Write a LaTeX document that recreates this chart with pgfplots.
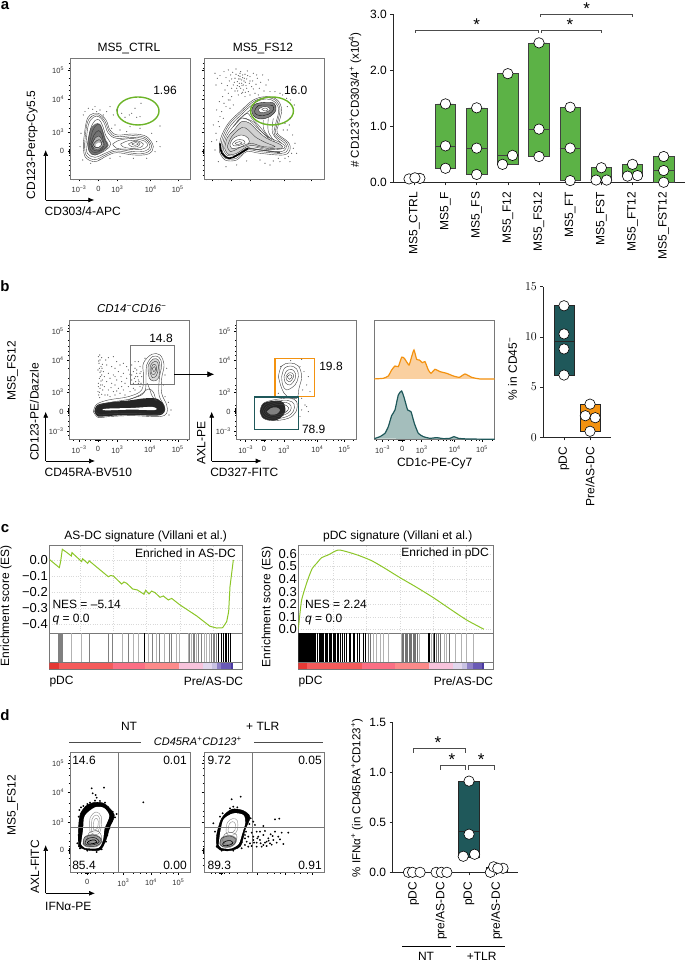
\documentclass[border=0pt]{standalone}
\usepackage{fontspec}
\setmainfont{Liberation Sans}
\usepackage{pgfplots}
\pgfplotsset{compat=1.18}
\usepgfplotslibrary{statistics}
\usetikzlibrary{arrows.meta}

\definecolor{grn}{RGB}{92,178,70}
\definecolor{gate}{RGB}{108,180,40}
\definecolor{teal1}{RGB}{31,88,90}
\definecolor{org}{RGB}{243,146,16}
\definecolor{orgl}{RGB}{250,208,160}
\definecolor{tealh}{RGB}{164,190,188}
\definecolor{esl}{RGB}{140,198,40}
\definecolor{frm}{RGB}{120,120,120}
\definecolor{cb1}{RGB}{229,57,53}
\definecolor{cb2}{RGB}{244,91,91}
\definecolor{cb3}{RGB}{251,111,132}
\definecolor{cb4}{RGB}{252,138,138}
\definecolor{cb5}{RGB}{248,195,220}
\definecolor{cb6}{RGB}{226,216,238}
\definecolor{cb7}{RGB}{201,194,227}
\definecolor{cb8}{RGB}{142,128,198}
\definecolor{cb9}{RGB}{106,90,181}
\definecolor{cb10}{RGB}{74,58,160}

\newcommand\fs[1]{\fontsize{#1}{#1}\selectfont}
\newcommand\sst[1]{\textsuperscript{#1}}
% text at reference pixel position
\newcommand\lab[4][]{\node[inner sep=0pt,font=\fs{12},#1] at (#2pt,961pt-#3pt) {#4};}
\newcommand\ct[2][]{\addplot[cont,#1] coordinates {#2};}
\newcommand\fl[2]{\addplot[fill=#1,draw=none,smooth,tension=0.6] coordinates {#2};}
\newcommand\pts[2][]{\addplot[only marks,mark=*,mark size=0.32,black!60,mark options={draw=none},#1] coordinates {#2};}
\newcommand\seg[3]{\addplot[fill=#3,draw=none] coordinates {(#1,0)(#2,0)(#2,1)(#1,1)} --cycle;}
\newcommand\circles[1]{\addplot[only marks,mark=*,mark size=5.2,mark options={fill=white,draw=black,line width=0.6}] coordinates {#1};}

\pgfplotsset{
  cont/.style={smooth,tension=0.6,black!75,line width=0.4},
  brk/.style={black!70,line width=0.8},
  flow/.style={scale only axis,axis line style={frm,line width=0.8},tick align=outside,
    major tick length=2.5pt,minor tick length=1.3pt,tick style={black,line width=0.4},
    xtick pos=bottom,ytick pos=left,scaled ticks=false,
    tick label style={font=\fs{7.5},black!80},
    xticklabel shift=1pt,yticklabel shift=0pt},
  bars/.style={scale only axis,axis lines=left,axis line style={-,line width=0.8,black!85},clip=false,
    tick align=outside,major tick length=3pt,tick style={black!85,line width=0.6},
    scaled ticks=false,tick label style={font=\fs{12}},xticklabel shift=3pt,
    x tick label style={rotate=90,anchor=east},boxplot/draw direction=y},
  es/.style={scale only axis,axis line style={frm,line width=0.7},xtick pos=bottom,ytick pos=left,
    major tick length=0pt,grid=major,grid style={dotted,black!15},xticklabels={},
    tick label style={font=\fs{13}},scaled ticks=false,yticklabel shift=-2pt},
  strip/.style={scale only axis,axis line style={frm,line width=0.7},ticks=none,ymin=0,ymax=1},
}

\begin{document}
\begin{tikzpicture}
\path[use as bounding box] (0,0) rectangle (685pt,961pt);

%% panel a, flow plots
\begin{axis}[flow,at={(70pt,961pt-179pt)},anchor=south west,width=120.7pt,height=120.7pt,
  xmin=210,xmax=572,ymin=175,ymax=537,y dir=reverse,
  xtick={237,295,352,452,533},xticklabels={10\sst{−3},0,10\sst{3},10\sst{4},10\sst{5}},
  ytick={212,298,397,453},yticklabels={10\sst{5},10\sst{4},10\sst{3},0},
  minor xtick={220,255,270,285,288,291,294,297,300,318,335,380,400,415,425,435,445,480,500,515,525,560},
  minor ytick={190,205,235,255,270,285,325,350,370,385,430,440,447,450,456,459,465,480,495,510,525}]
\pts{(265,325)(285,320)(300,330)(320,335)(340,345)(250,345)(243,400)(240,440)(248,480)(272,490)(300,478)(330,475)(360,470)(400,475)(440,475)(465,455)(470,425)(455,400)(420,385)(390,380)(360,390)(345,375)(375,352)(395,340)(410,352)(420,350)(423,310)(405,325)(388,345)(480,378)(330,320)(350,330)(290,335)(365,340)(335,385)(380,395)(255,335)(278,328)(310,345)(480,440)}
\fl{black!55}{(262,432)(270,390)(285,372)(300,372)(310,395)(318,420)(326,436)(312,452)(285,466)(268,456)(262,432)}
\fl{black!30}{(278,433)(287,412)(298,408)(307,420)(312,435)(298,448)(284,448)(278,433)}
\fl{white}{(287,434)(296,428)(304,433)(296,441)(289,441)(287,434)}
\ct{(250,430)(258,370)(270,345)(295,340)(318,360)(330,390)(352,405)(400,402)(440,410)(460,440)(445,462)(400,465)(350,458)(320,468)(285,485)(255,470)(250,430)}
\ct{(254,430)(261,372)(275,349)(296,345)(315,364)(328,395)(350,410)(400,407)(437,414)(455,440)(440,458)(400,460)(350,453)(320,463)(285,479)(258,465)(254,430)}
\ct{(258,430)(265,375)(280,352)(297,350)(312,368)(325,400)(350,415)(400,412)(435,418)(450,440)(435,453)(400,455)(350,448)(320,458)(285,472)(262,460)(258,430)}
\ct{(263,430)(272,385)(285,362)(298,360)(308,378)(318,408)(332,432)(318,450)(285,465)(268,455)(263,430)}
\ct{(268,432)(278,392)(290,375)(300,375)(308,395)(314,420)(322,435)(310,448)(285,458)(272,450)(268,432)}
\ct[black!80]{(272,432)(282,405)(295,392)(305,402)(310,425)(312,438)(298,452)(280,450)(272,432)}
\ct[black!85]{(275,433)(285,415)(297,408)(306,420)(310,435)(298,447)(282,446)(275,433)}
\ct[black!90]{(280,433)(290,422)(300,420)(305,432)(297,442)(285,442)(280,433)}
\ct{(338,432)(360,420)(400,416)(435,424)(442,438)(425,448)(390,448)(350,445)(338,432)}
\ct{(362,432)(385,422)(412,422)(430,432)(420,443)(390,445)(368,440)(362,432)}
\ct{(385,432)(405,424)(420,430)(412,440)(395,440)(385,432)}
\ct{(395,432)(407,428)(415,432)(405,436)(395,432)}
\draw[gate,line width=1.4] (axis cs:414,333) ellipse [x radius=21pt,y radius=14pt];
\end{axis}

\begin{axis}[flow,at={(204pt,961pt-179pt)},anchor=south west,width=120.3pt,height=120.7pt,
  xmin=12,xmax=373,ymin=10,ymax=372,y dir=reverse,
  xtick={37,95,152,252,333},xticklabels={},ytick={47,133,232,288},yticklabels={},
  minor xtick={20,55,70,85,88,91,94,97,100,118,135,180,200,215,225,235,245,280,300,315,325,360},
  minor ytick={25,40,70,90,105,120,160,185,205,220,265,275,282,285,291,294,300,315,330,345,360}]
\pts{(45,55)(52,70)(60,62)(48,90)(65,85)(72,50)(78,68)(85,45)(88,78)(92,60)(98,52)(100,90)(105,70)(108,42)(112,80)(115,62)(118,95)(120,72)(122,50)(125,85)(128,68)(130,105)(132,78)(135,58)(138,92)(140,72)(142,48)(145,110)(148,85)(150,65)(155,95)(158,78)(160,55)(165,115)(168,88)(172,70)(178,100)(182,82)(188,60)(192,108)(198,90)(205,75)(210,110)(75,105)(85,115)(95,125)(105,108)(115,120)(125,115)(135,125)(68,125)(58,140)(72,145)(85,135)(50,165)(60,185)(40,210)(48,235)(35,260)(45,285)(55,320)(78,335)(110,330)(140,318)(180,315)(220,318)(255,310)(275,295)(285,265)(278,240)(262,225)(255,205)(270,190)(283,150)(260,130)(240,115)(225,110)(120,55)(125,75)(118,85)(130,90)(122,100)(112,92)(128,60)(136,82)(116,72)(100,150)(90,160)(70,190)(58,215)(50,255)(240,320)(270,320)(210,330)(108,58)(126,92)(133,70)(110,100)(120,64)(140,100)(128,112)(103,82)(95,72)(150,78)(143,62)(82,92)(160,102)(170,60)(113,108)(136,112)(95,100)(150,120)(175,120)(90,135)(78,155)(65,170)(55,200)(280,280)(290,295)(265,305)(235,310)(195,325)(250,225)(268,210)(262,155)(272,135)(248,120)}
\fl{black!18}{(74,280)(82,248)(102,225)(125,200)(150,205)(170,225)(200,250)(240,268)(245,280)(200,280)(150,272)(110,295)(85,298)(74,280)}
\fl{black!50}{(155,165)(165,148)(195,142)(222,145)(228,165)(210,185)(180,192)(160,182)(155,165)}
\fl{white}{(175,163)(190,155)(205,157)(210,165)(195,172)(180,172)(175,163)}
\fl{white}{(90,268)(100,250)(125,240)(145,250)(145,268)(115,278)(95,280)(90,268)}
\ct{(58,290)(62,250)(85,205)(120,170)(160,135)(200,125)(232,135)(245,165)(235,210)(232,235)(265,262)(270,285)(250,300)(180,295)(140,290)(110,315)(75,315)(58,290)}
\ct{(62,288)(67,250)(88,208)(122,174)(162,139)(200,128)(229,138)(240,166)(230,212)(228,237)(260,263)(264,283)(245,295)(180,290)(140,285)(109,310)(76,310)(62,288)}
\ct{(66,285)(72,250)(92,212)(125,178)(165,143)(200,132)(226,142)(236,168)(225,215)(224,240)(255,265)(258,280)(240,290)(180,285)(140,280)(108,305)(78,305)(66,285)}
\ct{(70,283)(77,249)(97,218)(125,189)(150,198)(175,222)(205,246)(248,267)(252,280)(205,284)(150,276)(109,300)(82,301)(70,283)}
\ct{(74,280)(82,248)(102,225)(125,200)(150,205)(170,225)(200,250)(240,268)(245,280)(200,280)(150,272)(110,295)(85,298)(74,280)}
\ct{(82,275)(95,245)(125,218)(145,225)(165,245)(195,262)(225,275)(190,275)(150,265)(115,280)(92,290)(82,275)}
\ct{(90,268)(100,250)(125,240)(145,250)(145,268)(115,278)(95,280)(90,268)}
\ct{(98,265)(110,255)(128,255)(135,264)(115,272)(100,272)(98,265)}
\ct{(105,265)(118,260)(126,264)(112,269)(105,265)}
\ct[black!90]{(155,165)(165,148)(195,142)(222,145)(228,165)(210,185)(180,192)(160,182)(155,165)}
\ct[black!90]{(165,165)(175,152)(198,150)(218,152)(220,165)(205,178)(180,182)(165,175)(165,165)}
\ct{(175,163)(190,155)(205,157)(210,165)(195,172)(180,172)(175,163)}
\ct{(185,163)(196,159)(204,164)(195,168)(185,163)}
\ct{(110,200)(140,175)(155,190)(175,210)(195,235)(210,255)}
\ct{(130,190)(160,200)(180,225)(205,250)}
\ct{(205,190)(205,230)(225,260)}
\ct{(220,190)(218,235)(245,265)}
\ct{(190,195)(192,225)(215,255)}
\ct{(100,215)(125,188)(150,165)}
\ct[black,line width=1.6]{(60,265)(66,295)(88,310)(112,300)(145,280)}
\ct[black!70,line width=1]{(145,280)(190,286)(240,293)}
\draw[gate,line width=1.4] (axis cs:216,168) ellipse [x radius=21.5pt,y radius=14pt];
\end{axis}

%% panel a, counts
\begin{axis}[bars,at={(393.3pt,961pt-182.3pt)},anchor=south west,width=291.7pt,height=168pt,
  xmin=-0.674,xmax=8.684,ymin=0,ymax=3,
  xtick={0,...,8},xticklabels={MS5\_CTRL,MS5\_F,MS5\_FS,MS5\_F12,MS5\_FS12,MS5\_FT,MS5\_FST,MS5\_FT12,MS5\_FST12},
  ytick={0,1,2,3},yticklabels={0.0,1.0,2.0,3.0}]
\addplot[fill=grn,draw=black!75,line width=0.6,boxplot prepared={lower whisker=0.25,lower quartile=0.25,median=0.65,upper quartile=1.40,upper whisker=1.40,draw position=1,box extend=0.66}] coordinates {};
\addplot[fill=grn,draw=black!75,line width=0.6,boxplot prepared={lower whisker=0.14,lower quartile=0.14,median=0.61,upper quartile=1.33,upper whisker=1.33,draw position=2,box extend=0.66}] coordinates {};
\addplot[fill=grn,draw=black!75,line width=0.6,boxplot prepared={lower whisker=0.32,lower quartile=0.32,median=0.48,upper quartile=1.94,upper whisker=1.94,draw position=3,box extend=0.66}] coordinates {};
\addplot[fill=grn,draw=black!75,line width=0.6,boxplot prepared={lower whisker=0.46,lower quartile=0.46,median=0.95,upper quartile=2.49,upper whisker=2.49,draw position=4,box extend=0.66}] coordinates {};
\addplot[fill=grn,draw=black!75,line width=0.6,boxplot prepared={lower whisker=0.03,lower quartile=0.03,median=0.61,upper quartile=1.34,upper whisker=1.34,draw position=5,box extend=0.66}] coordinates {};
\addplot[fill=grn,draw=black!75,line width=0.6,boxplot prepared={lower whisker=0.04,lower quartile=0.04,median=0.04,upper quartile=0.26,upper whisker=0.26,draw position=6,box extend=0.66}] coordinates {};
\addplot[fill=grn,draw=black!75,line width=0.6,boxplot prepared={lower whisker=0.11,lower quartile=0.11,median=0.12,upper quartile=0.32,upper whisker=0.32,draw position=7,box extend=0.66}] coordinates {};
\addplot[fill=grn,draw=black!75,line width=0.6,boxplot prepared={lower whisker=0.0,lower quartile=0.0,median=0.21,upper quartile=0.46,upper whisker=0.46,draw position=8,box extend=0.66}] coordinates {};
\circles{(-0.17,0.06)(0.18,0.07)(0.02,0.08)}
\circles{(1,1.40)(1,0.65)(1,0.25)}
\circles{(2,1.33)(2,0.61)(2,0.14)}
\circles{(3,1.94)(3.15,0.48)(2.83,0.32)}
\circles{(4,2.49)(4,0.95)(4,0.46)}
\circles{(5,1.34)(5,0.61)(5,0.03)}
\circles{(6,0.26)(5.83,0.04)(6.17,0.04)}
\circles{(7,0.32)(6.84,0.11)(7.16,0.12)}
\circles{(8,0.46)(8,0.21)(8,0.0)}
\addplot[brk] coordinates {(0.04,2.67)(0.04,2.72)(3.99,2.72)(3.99,2.67)};
\addplot[brk] coordinates {(4.07,2.67)(4.07,2.72)(6.0,2.72)(6.0,2.67)};
\addplot[brk] coordinates {(4.03,2.95)(4.03,3.0)(7.0,3.0)(7.0,2.95)};
\end{axis}

%% panel b, flow plots
\begin{axis}[flow,at={(69.7pt,961pt-439.3pt)},anchor=south west,width=120pt,height=119.3pt,
  xmin=14,xmax=374,ymin=15,ymax=373,y dir=reverse,
  xtick={42,99,157,255,338},xticklabels={10\sst{−3},0,10\sst{3},10\sst{4},10\sst{5}},
  ytick={50,135,233,290,348},yticklabels={10\sst{5},10\sst{4},10\sst{3},0,10\sst{−3}},
  minor xtick={25,60,75,90,93,96,99,102,105,123,140,185,205,220,230,240,250,285,305,320,330,365},
  minor ytick={30,40,75,95,110,122,160,190,210,222,270,280,284,287,293,296,302,320,335,360}]
\pts{(100,125)(105,135)(110,128)(102,145)(108,155)(112,148)(99,165)(105,172)(110,180)(103,190)(108,198)(100,205)(112,210)(105,220)(99,230)(110,238)(104,248)(130,128)(145,125)(125,150)(140,155)(155,140)(165,150)(175,145)(185,155)(130,175)(145,180)(160,170)(175,175)(190,165)(200,150)(210,140)(125,200)(140,205)(155,195)(170,200)(185,190)(200,180)(215,165)(225,155)(130,225)(145,230)(160,220)(175,225)(190,215)(205,205)(220,195)(230,185)(120,240)(135,245)(150,240)(165,235)(180,240)(205,170)(212,185)(220,205)(208,190)(215,175)(228,205)(200,195)(118,185)(122,135)(150,210)(170,215)(300,245)(310,262)(318,285)(312,300)(295,210)(300,180)(305,160)(103,160)(107,210)(101,240)(113,225)(195,230)(210,225)(225,215)(240,130)(225,175)(135,190)(115,170)(150,160)(101,138)(111,160)(106,185)(100,215)(112,195)(103,232)(108,168)(104,120)(168,185)(180,205)(195,178)(205,220)(218,185)(222,200)(212,200)(210,160)(220,140)(228,170)(150,185)(138,218)(118,215)(128,240)(155,228)}
\fl{black!15}{(250,175)(250,150)(265,132)(280,135)(285,155)(280,190)(265,198)(253,190)(250,175)}
\fl{black!85}{(88,290)(97,270)(135,262)(195,256)(240,250)(278,252)(298,272)(298,292)(275,302)(200,300)(130,303)(100,305)(88,290)}
\fl{white}{(112,285)(125,281)(200,279)(262,276)(270,285)(200,284)(130,286)(112,285)}
\ct{(85,290)(95,268)(130,255)(190,245)(230,225)(235,180)(235,145)(260,118)(285,120)(297,150)(290,190)(290,235)(305,270)(305,295)(280,305)(200,302)(130,305)(100,308)(85,290)}
\ct{(92,290)(100,272)(135,262)(195,252)(238,232)(243,180)(245,150)(262,125)(282,127)(290,150)(283,190)(282,240)(297,272)(297,290)(275,298)(200,295)(130,297)(105,300)(92,290)}
\ct{(250,175)(250,150)(265,132)(280,135)(285,155)(280,190)(265,198)(253,190)(250,175)}
\ct{(255,170)(257,150)(268,140)(278,143)(280,160)(274,182)(262,188)(255,170)}
\ct{(258,165)(263,150)(272,150)(275,165)(268,178)(260,176)(258,165)}
\ct{(262,160)(268,155)(272,163)(266,170)(262,160)}
\ct{(247,205)(255,225)(262,245)(275,258)}
\ct{(190,255)(225,240)(250,222)(265,232)(272,255)}
\addplot[frm,line width=0.8] coordinates {(196,92)(327,92)(327,207)(196,207)} --cycle;
\end{axis}

\begin{axis}[flow,at={(236.7pt,961pt-439.3pt)},anchor=south west,width=119.6pt,height=119.3pt,
  xmin=710,xmax=1069,ymin=150,ymax=508,y dir=reverse,
  xtick={737,792,852,952,1033},xticklabels={10\sst{−3},0,10\sst{3},10\sst{4},10\sst{5}},
  ytick={185,270,368,425,483},yticklabels={10\sst{5},10\sst{4},10\sst{3},0,10\sst{−3}},
  minor xtick={720,755,770,785,788,791,794,797,815,832,880,900,915,925,935,945,980,1000,1015,1025,1060},
  minor ytick={165,175,210,230,245,257,295,325,345,357,405,415,419,422,428,431,437,455,470,495}]
\pts{(900,290)(912,305)(925,320)(920,345)(908,360)(930,365)(905,385)(915,405)(905,420)(920,410)(895,405)(925,425)(900,440)(835,370)(842,290)(872,272)(905,268)}
\fl{black!85}{(780,425)(790,400)(830,392)(850,398)(856,425)(840,445)(820,452)(790,445)(780,425)}
\fl{black!50}{(800,425)(812,415)(828,412)(840,420)(830,432)(812,434)(800,425)}
\ct{(835,320)(845,288)(870,279)(895,288)(905,320)(897,355)(890,385)(860,378)(845,355)(835,320)}
\ct{(845,320)(853,295)(872,288)(890,297)(895,320)(885,345)(860,360)(848,345)(845,320)}
\ct{(852,320)(860,303)(875,298)(886,310)(885,328)(870,345)(856,338)(852,320)}
\ct{(858,320)(866,309)(878,310)(880,322)(870,335)(860,330)(858,320)}
\ct{(862,320)(870,314)(876,320)(868,328)(862,320)}
\ct{(780,425)(790,400)(830,388)(870,385)(890,395)(888,425)(865,445)(820,452)(790,445)(780,425)}
\ct{(785,425)(795,405)(830,394)(865,392)(882,402)(880,424)(860,440)(820,447)(793,440)(785,425)}
\ct{(790,425)(800,409)(830,399)(860,398)(873,408)(870,424)(852,435)(820,442)(798,436)(790,425)}
\ct{(795,425)(804,412)(830,404)(853,404)(866,414)(858,426)(842,433)(818,437)(802,432)(795,425)}
\addplot[org,line width=1.5] coordinates {(825,266)(943,266)(943,379)(825,379)} --cycle;
\addplot[teal1,line width=1.5] coordinates {(763,381)(895,381)(895,478)(763,478)} --cycle;
\end{axis}

%% panel b, histograms
\begin{axis}[flow,at={(374.3pt,961pt-439.3pt)},anchor=south west,width=120.4pt,height=119.3pt,
  xmin=43,xmax=404,ymin=150,ymax=508,y dir=reverse,
  xtick={68,127,185,284,366},xticklabels={10\sst{−3},0,10\sst{3},10\sst{4},10\sst{5}},ytick=\empty,
  minor xtick={50,85,100,115,118,121,124,127,130,133,150,168,215,235,250,260,270,278,315,335,350,358,395}]
\addplot[fill=orgl,draw=org,line width=1.2,smooth,tension=0.3] coordinates {(40,327)(70,325)(85,318)(95,300)(105,288)(115,290)(125,262)(133,265)(147,285)(155,260)(162,240)(170,268)(178,270)(187,278)(195,275)(205,300)(213,310)(225,298)(240,305)(260,310)(280,318)(298,322)(315,312)(335,322)(360,327)(406,327)};
\addplot[fill=tealh,draw=teal1,line width=1.2,smooth,tension=0.3] coordinates {(43,506)(60,500)(75,490)(85,470)(95,437)(105,420)(115,375)(125,363)(133,385)(143,420)(153,425)(163,460)(175,490)(190,500)(210,505)(230,503)(250,506)(270,505)(282,500)(295,505)(320,507)(404,508)};
\end{axis}

%% panel b, percentages
\begin{axis}[bars,at={(543.3pt,961pt-437.3pt)},anchor=south west,width=67.4pt,height=150.6pt,
  xmin=-0.795,xmax=1.795,ymin=0,ymax=15,xtick={0,1},xticklabels={pDC,Pre/AS-DC},ytick={0,5,10,15}]
\addplot[fill=teal1,draw=black!85,line width=0.6,boxplot prepared={lower whisker=6.2,lower quartile=6.2,median=9.55,upper quartile=13.1,upper whisker=13.1,draw position=0,box extend=0.77}] coordinates {};
\addplot[fill=org,draw=black!85,line width=0.6,boxplot prepared={lower whisker=0.6,lower quartile=0.6,median=2.05,upper quartile=3.3,upper whisker=3.3,draw position=1,box extend=0.77}] coordinates {};
\circles{(0,13.1)(0,10.3)(0,8.8)(0,6.2)}
\circles{(1,3.3)(0.82,2.15)(1.2,1.95)(1,0.6)}
\end{axis}

%% panel c, left
\begin{axis}[es,at={(49.3pt,961pt-633.3pt)},anchor=south west,width=192.7pt,height=88.3pt,
  xmin=148,xmax=726,ymin=-0.46,ymax=0.094,xtick={240,340,440,540,640},
  ytick={-0.4,-0.3,-0.2,-0.1,0},yticklabels={−0.4,−0.3,−0.2,−0.1,0.0}]
\addplot[esl,line width=1] coordinates {(148,0.004)(178,-0.048)(182,-0.010)(187,0.067)(200,0.048)(214,0.025)(216,0.046)(245,-0.010)(248,0.008)(263,-0.021)(268,-0.006)(325,-0.105)(332,-0.098)(340,-0.100)(365,-0.151)(372,-0.138)(380,-0.146)(398,-0.182)(412,-0.188)(432,-0.215)(437,-0.190)(447,-0.213)(455,-0.195)(465,-0.205)(480,-0.234)(490,-0.226)(505,-0.251)(515,-0.241)(540,-0.282)(590,-0.351)(630,-0.416)(650,-0.427)(668,-0.425)(680,-0.387)(686,-0.324)(690,-0.167)(695,-0.084)(700,0)};
\end{axis}
\begin{axis}[strip,at={(49.3pt,961pt-662.7pt)},anchor=south west,width=192.7pt,height=29.4pt,xmin=148,xmax=726]
\addplot[ycomb,black!30,line width=0.9] coordinates {(214,1)(245,1)(368,1)(400,1)(415,1)(445,1)(470,1)(492,1)(530,1)(537,1)(565,1)(575,1)(590,1)(612,1)(620,1)(627,1)};
\addplot[ycomb,black!50,line width=1] coordinates {(177,1)(180,1)(183,1)(186,1)(189,1)(268,1)(325,1)(338,1)(385,1)(458,1)(480,1)(508,1)(515,1)(570,1)(580,1)(585,1)(597,1)(605,1)(635,1)(640,1)(645,1)(650,1)};
\addplot[ycomb,black,line width=1] coordinates {(433,1)(655,1)(665,1)(672,1)(676,1)(680,1)(685,1)(690,1)};
\end{axis}
\begin{axis}[strip,at={(49.3pt,961pt-669.3pt)},anchor=south west,width=192.7pt,height=6.6pt,xmin=148,xmax=726]
\seg{148}{177}{cb1}
\seg{177}{338}{cb2}
\seg{338}{435}{cb3}
\seg{435}{537}{cb4}
\seg{537}{610}{cb5}
\seg{610}{637}{cb6}
\seg{637}{650}{cb7}
\seg{650}{663}{cb8}
\seg{663}{693}{cb9}
\seg{693}{698}{cb10}
\end{axis}

%% panel c, right
\begin{axis}[es,at={(298.3pt,961pt-633.3pt)},anchor=south west,width=195pt,height=88.3pt,
  xmin=895,xmax=1480,ymin=-0.032,ymax=0.671,xtick={1000,1100,1200,1300,1400},
  ytick={0,0.1,0.2,0.3,0.4,0.5,0.6},yticklabels={0.0,0.1,0.2,0.3,0.4,0.5,0.6}]
\addplot[esl,line width=1,smooth,tension=0.4] coordinates {(895,0)(900,0.127)(905,0.233)(915,0.326)(925,0.406)(937,0.485)(950,0.525)(965,0.570)(985,0.592)(1015,0.631)(1050,0.610)(1080,0.584)(1115,0.546)(1150,0.493)(1200,0.411)(1250,0.334)(1300,0.252)(1350,0.162)(1400,0.074)(1452,0)};
\end{axis}
\begin{axis}[strip,at={(298.3pt,961pt-662.7pt)},anchor=south west,width=195pt,height=29.4pt,xmin=895,xmax=1480]
\seg{895}{945}{black}
\addplot[ycomb,black!30,line width=0.9] coordinates {(1120,1)(1128,1)(1140,1)(1150,1)(1165,1)(1205,1)(1258,1)(1295,1)(1365,1)(1385,1)(1400,1)(1420,1)(1340,1)(1332,1)};
\addplot[ycomb,black!55,line width=1] coordinates {(1105,1)(1112,1)(1208,1)(1212,1)(1216,1)(1220,1)(1224,1)(1228,1)(1232,1)(1236,1)(1240,1)(1244,1)(1248,1)(1252,1)(1300,1)(1310,1)(1316,1)(1322,1)(1350,1)};
\addplot[ycomb,black,line width=1] coordinates {(948,1)(953,1)(958,1)(962,1)(965,1)(969,1)(972,1)(976,1)(980,1)(984,1)(988,1)(992,1)(996,1)(1000,1)(1003,1)(1008,1)(1012,1)(1015,1)(1022,1)(1028,1)(1034,1)(1040,1)(1048,1)(1053,1)(1060,1)(1065,1)(1072,1)(1080,1)(1090,1)(1096,1)(1285,1)(1290,1)(1305,1)};
\end{axis}
\begin{axis}[strip,at={(298.3pt,961pt-669.3pt)},anchor=south west,width=195pt,height=6.6pt,xmin=895,xmax=1480]
\seg{895}{922}{cb1}
\seg{922}{1085}{cb2}
\seg{1085}{1185}{cb3}
\seg{1185}{1287}{cb4}
\seg{1287}{1360}{cb5}
\seg{1360}{1385}{cb6}
\seg{1385}{1400}{cb7}
\seg{1400}{1420}{cb8}
\seg{1420}{1445}{cb9}
\seg{1445}{1452}{cb10}
\end{axis}

%% panel d, flow plots
\begin{axis}[flow,at={(70pt,961pt-872.3pt)},anchor=south west,width=120.3pt,height=120.3pt,
  xmin=210,xmax=571,ymin=156,ymax=517,y dir=reverse,
  xtick={262,370,453,535},xticklabels={0,10\sst{3},10\sst{4},10\sst{5}},
  ytick={190,276,367,450},yticklabels={10\sst{5},10\sst{4},10\sst{3},0},
  minor xtick={232,245,255,258,262,266,270,285,310,340,400,420,440,480,500,520},
  minor ytick={170,180,205,225,250,310,335,350,400,425,440,444,447,453,456,460,475,495}]
\pts[mark size=0.7,black]{(238,330)(243,322)(250,318)(262,312)(270,308)(285,302)(300,303)(315,308)(325,322)(338,335)(350,342)(345,352)(335,365)(328,385)(322,405)(318,425)(305,448)(290,456)(262,452)(240,445)(232,430)(236,405)(240,375)(236,350)(244,340)(275,265)(312,263)(287,285)(290,293)(430,307)(278,280)}
\addplot[fill=black,draw=black,smooth,tension=0.5] coordinates {(235,440)(235,395)(240,345)(258,318)(285,307)(315,312)(343,345)(330,380)(318,420)(300,450)(260,450)(235,440)};
\addplot[fill=white,draw=none,smooth,tension=0.5] coordinates {(243,432)(249,390)(254,348)(285,322)(312,324)(328,348)(314,385)(309,420)(295,444)(255,444)(243,432)};
\fl{black!40}{(248,432)(254,410)(278,402)(300,410)(306,426)(290,441)(258,441)(248,432)}
\ct[black!45]{(270,395)(270,355)(288,336)(304,350)(303,385)(295,402)(280,402)(270,395)}
\ct[black!45]{(275,392)(276,358)(288,345)(299,355)(298,385)(290,396)(280,396)(275,392)}
\ct[black!45]{(280,388)(282,362)(290,355)(295,365)(292,385)(285,390)(280,388)}
\ct[black!60]{(262,415)(268,398)(290,392)(302,402)(304,418)(290,428)(268,428)(262,415)}
\ct[black!80]{(250,430)(254,412)(278,405)(298,412)(304,426)(288,438)(258,438)(250,430)}
\ct[black!85,line width=0.6]{(255,430)(260,418)(280,412)(295,420)(296,428)(282,434)(262,435)(255,430)}
\ct[black,line width=0.7]{(262,428)(270,422)(284,420)(290,427)(278,431)(265,432)(262,428)}
\addplot[frm,line width=0.9] coordinates {(354,156)(354,517)};
\addplot[frm,line width=0.9] coordinates {(210,383)(571,383)};
\end{axis}

\begin{axis}[flow,at={(204pt,961pt-872.3pt)},anchor=south west,width=120.3pt,height=120.3pt,
  xmin=612,xmax=973,ymin=156,ymax=517,y dir=reverse,
  xtick={664,772,855,937},xticklabels={},ytick={190,276,367,450},yticklabels={},
  minor xtick={634,647,657,660,664,668,672,687,712,742,802,822,842,882,902,922},
  minor ytick={170,180,205,225,250,310,335,350,400,425,440,444,447,453,456,460,475,495}]
\pts[mark size=0.7,black]{(660,350)(668,340)(690,325)(712,322)(722,290)(695,298)(700,320)(745,345)(752,355)(748,372)(640,370)(645,395)(650,440)(665,452)(700,452)(725,445)(735,405)(760,365)(765,375)(790,378)(825,358)(838,356)(770,395)(780,395)(795,393)(812,403)(825,395)(845,398)(865,398)(740,425)(750,430)(760,420)(770,428)(780,420)(790,435)(800,425)(810,430)(820,420)(830,428)(840,418)(850,432)(760,410)(775,410)(790,405)(805,415)(818,408)(835,410)(745,440)(755,438)(770,440)(785,440)(800,438)(725,428)(735,415)(745,410)(755,398)(735,435)(762,428)(772,415)(782,430)(795,428)(806,422)(815,434)(728,410)(738,395)}
\addplot[fill=black,draw=black,smooth,tension=0.5] coordinates {(650,440)(650,405)(665,355)(695,328)(730,332)(750,352)(735,390)(722,438)(690,452)(660,450)(650,440)};
\addplot[fill=white,draw=none,smooth,tension=0.5] coordinates {(656,434)(661,395)(671,358)(700,340)(730,345)(736,368)(727,400)(716,432)(692,446)(664,444)(656,434)};
\fl{black!40}{(658,432)(665,412)(690,405)(710,415)(706,432)(690,443)(668,442)(658,432)}
\ct[black!45]{(678,395)(682,368)(698,356)(712,362)(712,390)(700,405)(685,405)(678,395)}
\ct[black!45]{(684,392)(688,372)(698,365)(706,372)(705,390)(697,398)(688,398)(684,392)}
\ct[black!60]{(668,420)(675,402)(695,398)(710,405)(708,422)(692,432)(675,432)(668,420)}
\ct[black!80]{(660,432)(665,415)(690,408)(708,418)(703,432)(688,440)(668,440)(660,432)}
\ct[black,line width=0.6]{(668,432)(676,424)(692,422)(698,430)(686,436)(672,437)(668,432)}
\addplot[frm,line width=0.9] coordinates {(756,156)(756,517)};
\addplot[frm,line width=0.9] coordinates {(612,383)(973,383)};
\end{axis}

%% panel d, IFN
\begin{axis}[bars,at={(392.7pt,961pt-872.3pt)},anchor=south west,width=125pt,height=150.3pt,
  xmin=-0.76,xmax=3.76,ymin=0,ymax=1.5,xtick={0,1,2,3},xticklabels={pDC,pre/AS-DC,pDC,pre/AS-DC},
  ytick={0,0.5,1,1.5},yticklabels={0.0,0.5,1.0,1.5}]
\addplot[fill=teal1,draw=black!85,line width=0.6,boxplot prepared={lower whisker=0.15,lower quartile=0.15,median=0.41,upper quartile=0.91,upper whisker=0.91,draw position=2,box extend=0.77}] coordinates {};
\addplot[fill=teal1,draw=black!85,line width=0.6,boxplot prepared={lower whisker=0.0,lower quartile=0.0,median=0.04,upper quartile=0.05,upper whisker=0.05,draw position=3,box extend=0.77}] coordinates {};
\circles{(-0.19,0)(-0.04,0)(0.23,0)}
\circles{(0.81,0)(1,0)(1.2,0)}
\circles{(2,0.91)(2,0.38)(1.79,0.16)(2.2,0.18)}
\circles{(2.77,0)(2.89,0.055)(3.23,0.04)(3.04,0.04)}
\addplot[brk] coordinates {(0,1.193)(0,1.233)(1.874,1.233)(1.874,1.193)};
\addplot[brk] coordinates {(0.967,1.023)(0.967,1.063)(1.874,1.063)(1.874,1.023)};
\addplot[brk] coordinates {(1.995,1.023)(1.995,1.063)(2.9,1.063)(2.9,1.023)};
\end{axis}

%% panel letters and text
\lab[font=\fs{15}\bfseries]{5}{6}{a}
\lab[font=\fs{15}\bfseries]{5}{286}{b}
\lab[font=\fs{15}\bfseries]{5}{529}{c}
\lab[font=\fs{15}\bfseries]{5}{715}{d}

\lab{129}{49}{MS5\_CTRL}
\lab{263}{49}{MS5\_FS12}
\lab{165}{90.7}{1.96}
\lab{295.7}{90.7}{16.0}
\lab{82.7}{211}{CD303/4-APC}
\lab[rotate=90]{32.3}{145}{CD123-Percp-Cy5.5}
\draw[-{Latex[length=6pt,width=5pt]},line width=0.7] (45.7pt,961pt-200pt) -- (45.7pt,961pt-150pt);
\draw[-{Latex[length=6pt,width=5pt]},line width=0.7] (45.7pt,961pt-200pt) -- (94.3pt,961pt-200pt);
\lab[rotate=90,font=\fs{11.5}]{355}{100}{\# CD123\sst{+}CD303/4\sst{+} (x10\sst{4})}
\lab[font=\fs{17}]{476.7}{25}{*}
\lab[font=\fs{17}]{570}{25}{*}
\lab[font=\fs{17}]{586.7}{9}{*}

\lab[font=\fs{11.5}\itshape]{131.7}{309}{CD14\sst{−}CD16\sst{−}}
\lab{161}{338.7}{14.8}
\draw[-{Latex[length=7pt,width=6pt]},line width=0.7] (174.3pt,961pt-374.3pt) -- (214.3pt,961pt-374.3pt);
\lab{331}{366}{19.8}
\lab{313.7}{429.3}{78.9}
\lab[rotate=90]{12.7}{370.7}{MS5\_FS12}
\lab[rotate=90]{34.3}{412}{CD123-PE/Dazzle}
\draw[-{Latex[length=6pt,width=5pt]},line width=0.7] (45.7pt,961pt-461pt) -- (45.7pt,961pt-411.7pt);
\draw[-{Latex[length=6pt,width=5pt]},line width=0.7] (45.7pt,961pt-461pt) -- (95pt,961pt-461pt);
\lab{88.3}{472.3}{CD45RA-BV510}
\lab[rotate=90]{201.3}{443.3}{AXL-PE}
\draw[-{Latex[length=6pt,width=5pt]},line width=0.7] (211.7pt,961pt-461pt) -- (211.7pt,961pt-411.7pt);
\draw[-{Latex[length=6pt,width=5pt]},line width=0.7] (211.7pt,961pt-461pt) -- (261.7pt,961pt-461pt);
\lab{244.3}{472.3}{CD327-FITC}
\lab{434.7}{463.3}{CD1c-PE-Cy7}
\lab[rotate=90]{512.7}{369}{\% in CD45\sst{−}}

\lab{145.7}{536.7}{AS-DC signature (Villani et al.)}
\lab{397.7}{536.7}{pDC signature (Villani et al.)}
\lab[anchor=east]{236}{553.3}{Enriched in AS-DC}
\lab[anchor=east]{489}{553.3}{Enriched in pDC}
\lab[anchor=west]{52.3}{604.7}{NES = –5.14}
\lab[anchor=west]{52.3}{619.3}{\textit{q} = 0.0}
\lab[anchor=west]{305}{604.7}{NES = 2.24}
\lab[anchor=west]{305}{619.3}{\textit{q} = 0.0}
\lab[anchor=west]{49.3}{681.7}{pDC}
\lab[anchor=east]{243.3}{681.7}{Pre/AS-DC}
\lab[anchor=west]{298.3}{681.7}{pDC}
\lab[anchor=east]{493.3}{681.7}{Pre/AS-DC}
\lab[rotate=90]{6}{605.7}{Enrichment score (ES)}
\lab[rotate=90]{267.3}{606.7}{Enrichment score (ES)}

\lab{129}{726.7}{NT}
\lab{262.7}{726.7}{+ TLR}
\lab[font=\fs{11}\itshape]{197.7}{741.7}{CD45RA\sst{+}CD123\sst{+}}
\draw[black!70,line width=0.8] (69.3pt,961pt-742.3pt) -- (141pt,961pt-742.3pt);
\draw[black!70,line width=0.8] (254.3pt,961pt-742.3pt) -- (323.3pt,961pt-742.3pt);
\lab{84}{760}{14.6}
\lab{175}{760}{0.01}
\lab{84}{865}{85.4}
\lab{175}{865}{0.00}
\lab{219.3}{760}{9.72}
\lab{310}{760}{0.05}
\lab{219.3}{865}{89.3}
\lab{310}{865}{0.91}
\lab[rotate=90]{12.7}{805}{MS5\_FS12}
\lab[rotate=90]{35}{866.7}{AXL-FITC}
\draw[-{Latex[length=6pt,width=5pt]},line width=0.7] (45.7pt,961pt-893.3pt) -- (45.7pt,961pt-845pt);
\draw[-{Latex[length=6pt,width=5pt]},line width=0.7] (45.7pt,961pt-893.3pt) -- (95pt,961pt-893.3pt);
\lab{68.3}{906}{IFNα-PE}
\lab[rotate=90,font=\fs{11.5}]{357}{798}{\% IFNα\sst{+} (in CD45RA\sst{+}CD123\sst{+})}
\lab[font=\fs{17}]{438}{743}{*}
\lab[font=\fs{17}]{452}{760}{*}
\lab[font=\fs{17}]{481.3}{760}{*}
\draw[black,line width=0.8] (402.3pt,961pt-946pt) -- (451pt,961pt-946pt);
\draw[black,line width=0.8] (456.3pt,961pt-946pt) -- (505pt,961pt-946pt);
\lab{426}{956}{NT}
\lab{481.7}{956}{+TLR}
\end{tikzpicture}
\end{document}
